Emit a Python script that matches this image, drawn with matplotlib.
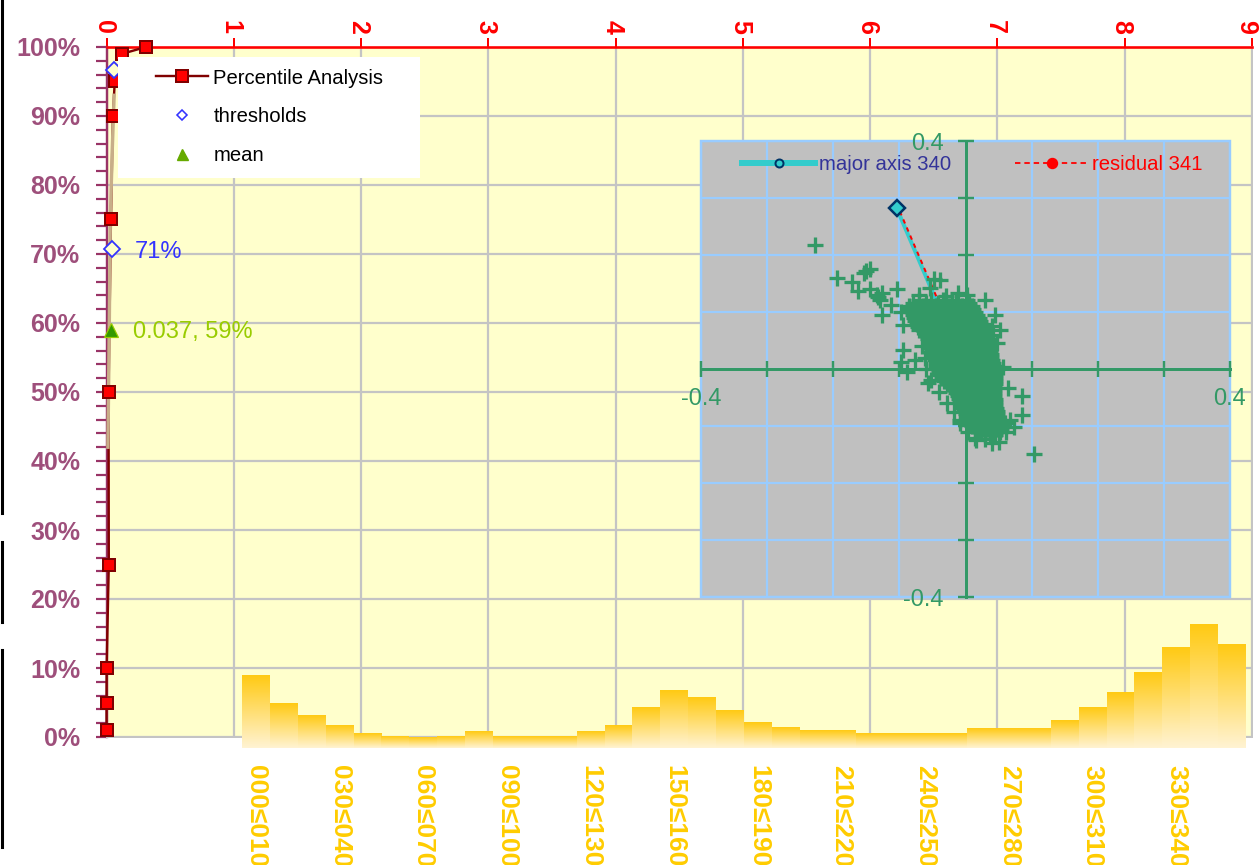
import numpy as np
import matplotlib
matplotlib.use("Agg")
import matplotlib.pyplot as plt
from matplotlib.colors import LinearSegmentedColormap
from matplotlib.lines import Line2D
from matplotlib.patches import Rectangle
from matplotlib.ticker import MultipleLocator
from matplotlib.transforms import ScaledTranslation

plt.rcParams['font.family'] = ['Liberation Sans', 'DejaVu Sans']

# ---- main chart data ----
pct_x = [0.0, 0.0, 0.001, 0.018, 0.016, 0.035, 0.05, 0.065, 0.12, 0.31]
pct_y = [1, 5, 10, 25, 50, 75, 90, 95, 99, 100]
tan_x = [0.011, 0.022, 0.03, 0.045, 0.06]
tan_y = [42, 60, 75, 85, 93]
thr_x = [0.04, 0.055]
thr_y = [70.7, 96.7]
mean_x = [0.037]
mean_y = [59]

# ---- direction histogram ----
bin_labels = ['000≤010', '030≤040', '060≤070', '090≤100', '120≤130', '150≤160',
              '180≤190', '210≤220', '240≤250', '270≤280', '300≤310', '330≤340']
bin_vals = [5.95, 3.68, 2.67, 1.83, 1.20, 0.96, 0.82, 0.93, 1.39, 0.96, 0.98, 0.98,
            1.39, 1.83, 3.28, 4.72, 4.12, 3.08, 2.05, 1.64, 1.42, 1.45, 1.20, 1.20,
            1.20, 1.17, 1.61, 1.61, 1.61, 2.27, 3.28, 4.53, 6.20, 8.24, 10.10, 8.46]

# ---- inset data ----
major_x = [0.0, -0.104]
major_y = [0.0, 0.282]
resid_x = [0.003, -0.101]
resid_y = [0.0, 0.281]
outlier_x = [-.227, -.195, -.171, -.163, -.150, -.145, -.153, -.144, -.134, -.126, -.129,
             -.132, -.103, -.112, -.126, -.098, -.094, -.094, -.097, -.088, -.077, -.056,
             -.047, -.039, -.053, -.070, .003, .030, .044, .052, .047, .057, .064, .086,
             .085, .074, .067, .050, .015, .104, -.008,
             -.066, -.062, -.060, -.052, -.040, -.028, -.018, -.008, .004, .016, .030,
             .040, .062, .060, .042, .040, -.030, -.012]
outlier_y = [.218, .160, .153, .137, .172, .175, .168, .140, .130, .133, .121,
             .126, .140, .112, .095, .100, .077, .033, .012, -.005, .016, -.025,
             .158, .156, .142, .130, .130, .121, .095, .068, .046, .004, -.033, -.047,
             -.081, -.102, -.089, -.128, -.121, -.149, -.089,
             .040, .020, .000, -.020, -.040, -.060, -.075, -.095, -.110, -.125, -.122,
             -.130, -.110, -.095, .060, .075, .128, .134]
cloud_levels = [.121, .116, .111, .105, .100, .095, .089, .084, .079, .074, .068, .063,
                .058, .053, .047, .042, .037, .032, .026, .021, .016, .011, .005, .000,
                -.005, -.011, -.016, -.021, -.026, -.032, -.037, -.042, -.047, -.053,
                -.058, -.063, -.068, -.074, -.079, -.084, -.089, -.095, -.100, -.105,
                -.111, -.116]
cloud_rows = [
    [-.070, -.052, -.034, -.015, .003],
    [-.080, -.060, -.041, -.020, .005],
    [-.085, -.064, -.044, -.025, -.006, .010],
    [-.085, -.066, -.046, -.027, -.008, .012],
    [-.082, -.063, -.043, -.022, -.003, .015],
    [-.080, -.060, -.040, -.021, -.001, .018],
    [-.078, -.058, -.039, -.019, .001, .020],
    [-.076, -.056, -.036, -.016, .004, .022],
    [-.074, -.054, -.034, -.013, .007, .026],
    [-.072, -.052, -.032, -.012, .009, .028],
    [-.070, -.050, -.030, -.010, .010, .030],
    [-.062, -.043, -.023, -.003, .014, .031],
    [-.058, -.039, -.020, -.001, .016, .032],
    [-.056, -.037, -.018, .000, .017, .034],
    [-.054, -.035, -.016, .002, .019, .034],
    [-.052, -.033, -.014, .004, .020, .035],
    [-.052, -.032, -.013, .005, .021, .036],
    [-.050, -.031, -.012, .006, .022, .037],
    [-.050, -.030, -.011, .008, .024, .038],
    [-.048, -.028, -.009, .009, .025, .039],
    [-.046, -.027, -.008, .011, .026, .040],
    [-.045, -.025, -.006, .013, .028, .042],
    [-.044, -.024, -.004, .015, .031, .046],
    [-.042, -.022, -.002, .017, .033, .048],
    [-.040, -.021, -.001, .018, .032, .046],
    [-.038, -.019, .001, .018, .032, .045],
    [-.036, -.017, .002, .019, .033, .045],
    [-.032, -.014, .004, .020, .033, .044],
    [-.028, -.010, .006, .021, .033, .044],
    [-.022, -.006, .008, .022, .034, .043],
    [-.018, -.003, .010, .023, .034, .043],
    [-.014, .000, .012, .024, .035, .043],
    [-.012, .002, .014, .025, .035, .043],
    [-.010, .004, .016, .026, .036, .044],
    [-.008, .005, .017, .027, .036, .044],
    [-.006, .007, .018, .028, .037, .045],
    [-.004, .009, .020, .030, .038, .046],
    [-.002, .011, .022, .032, .040, .048],
    [.000, .012, .023, .033, .041, .048],
    [.002, .014, .025, .035, .042, .049],
    [.004, .016, .027, .037, .044, .051],
    [.006, .018, .029, .039, .046, .052],
    [.010, .021, .031, .040, .047, .053],
    [.014, .024, .034, .042, .048, .054],
    [.020, .029, .037, .045, .052],
    [.030, .037, .045],
]
cloud_x = [v for row in cloud_rows for v in row]
cloud_y = [lv for lv, row in zip(cloud_levels, cloud_rows) for _ in row]

W, H = 1260, 865
PX = 72 / 100


def rect(x0, ytop, x1, ybot):
    return [x0 / W, 1 - ybot / H, (x1 - x0) / W, (ybot - ytop) / H]


fig = plt.figure(figsize=(W / 100, H / 100), dpi=100, facecolor='white')


def nudge(text, dx_px):
    text.set_transform(text.get_transform() + ScaledTranslation(dx_px / 100, 0, fig.dpi_scale_trans))


# left-edge black rule of the screenshot
for y0, y1 in [(0, 513), (542, 622), (650, 847)]:
    fig.add_artist(Line2D([1.5 / W, 1.5 / W], [1 - y0 / H, 1 - y1 / H],
                          color='black', lw=2.2))

MAUVE = '#993366'
ax = fig.add_axes(rect(106.5, 47, 1252, 737), facecolor='#FFFFCC', zorder=1)
ax.set_xlim(0, 9)
ax.set_ylim(0, 100)
ax.xaxis.tick_top()
ax.set_xticks(range(10))
ax.set_yticks(range(0, 101, 10))
ax.set_yticklabels([f'{v}%' for v in range(0, 101, 10)])
ax.yaxis.set_minor_locator(MultipleLocator(2))
ax.grid(True, color='#C4C4C4', lw=2 * PX * 1.1)
ax.set_axisbelow(True)
for s, c, w in [('top', 'red', 2.6), ('left', MAUVE, 2.4), ('bottom', '#C4C4C4', 2), ('right', '#C4C4C4', 2)]:
    ax.spines[s].set_color(c)
    ax.spines[s].set_linewidth(w * PX)
ax.tick_params(axis='x', colors='red', length=8 * PX * 1.1, width=2 * PX, pad=3, labelsize=18)
ax.tick_params(axis='y', which='major', colors=MAUVE, length=9 * PX * 1.2, width=2 * PX * 1.1, pad=11, labelsize=18)
ax.tick_params(axis='y', which='minor', colors=MAUVE, length=9 * PX * 1.2, width=2 * PX * 1.1)
xlabels = ax.get_xticklabels()
for t in xlabels:
    t.set_rotation(-90)
    t.set_fontweight('bold')
    t.set_ha('center')
    nudge(t, -3)
nudge(xlabels[-1], -3)
for t in ax.get_yticklabels():
    t.set_fontweight('bold')
    t.set_color('#9E4F7B')

ax.plot(pct_x, pct_y, color='#800000', lw=2.4 * PX, clip_on=False, zorder=2.8)
ax.plot(tan_x, tan_y, color='#C8AE88', lw=3.4 * PX, clip_on=False, zorder=2.9)
ax.plot(pct_x, pct_y, ls='none', marker='s', ms=11.5 * PX,
        mfc='red', mec='#800000', mew=2 * PX, clip_on=False, zorder=3)
ax.plot(thr_x, thr_y, ls='none', marker='D', ms=11 * PX, mfc='#FFFFCC', mec='#3333FF',
        mew=1.8 * PX, clip_on=False, zorder=3.2)
ax.plot(mean_x, mean_y, ls='none', marker='^', ms=14 * PX, mfc='#339900', mec='#99CC00',
        mew=1.2 * PX, clip_on=False, zorder=3.2)
ax.annotate('71%', (thr_x[0], thr_y[0]), xytext=(23 * PX, -3 * PX), textcoords='offset points',
            color='#3333FF', fontsize=17, va='center', zorder=3.3)
ax.annotate('0.037, 59%', (mean_x[0], mean_y[0]), xytext=(22 * PX, -2 * PX), textcoords='offset points',
            color='#99CC00', fontsize=17, va='center', zorder=3.3)

# main legend on a white panel
ax.add_patch(Rectangle((118 / W, 1 - 178 / H), 302 / W, 121 / H, transform=fig.transFigure,
                       facecolor='white', edgecolor='none', zorder=4))
main_handles = [
    Line2D([], [], color='#800000', lw=2.4 * PX, marker='s', ms=11.5 * PX, mfc='red', mec='#800000', mew=2 * PX),
    Line2D([], [], ls='none', marker='D', ms=7 * PX, mfc='white', mec='#3333FF', mew=1.6 * PX),
    Line2D([], [], ls='none', marker='^', ms=11 * PX, mfc='#66AA00', mec='#66AA00'),
]
leg = ax.legend(main_handles, ['Percentile Analysis', 'thresholds', 'mean'],
                loc='upper left', bbox_to_anchor=(156 / W, 1 - 68.5 / H), bbox_transform=fig.transFigure,
                frameon=False, fontsize=14.6, borderpad=0, borderaxespad=0, handlelength=2.55,
                handletextpad=0.28, labelspacing=0.98, labelcolor='black')
leg.set_zorder(5)

# histogram with per-bar fade
bar_ax = fig.add_axes(rect(242, 608, 1246, 748), zorder=2)
bar_ax.patch.set_alpha(0)
cmap = LinearSegmentedColormap.from_list('fade', ['#FFF3D2', '#FFCA14'])
grad = np.linspace(1, 0, 64).reshape(-1, 1)
for i, v in enumerate(bin_vals):
    bar_ax.imshow(grad, extent=[i, i + 1, 0, v], aspect='auto', cmap=cmap, vmin=0, vmax=1,
                  interpolation='bilinear', zorder=2)
bar_ax.set_xlim(0, 36)
bar_ax.set_ylim(0, 140 / 12.21)
bar_ax.set_yticks([])
bar_ax.set_xticks([i + 0.5 for i in range(0, 36, 3)])
bar_ax.set_xticklabels(bin_labels, rotation=-90, ha='center', va='top', color='#FFCC00',
                       fontsize=19, fontweight='bold')
for t in bar_ax.get_xticklabels():
    nudge(t, -3)
bar_ax.tick_params(axis='x', length=0, pad=12)
for s in bar_ax.spines.values():
    s.set_visible(False)

# inset scatter
GREEN = '#339966'
ins = fig.add_axes(rect(701, 141, 1230, 597), facecolor='#C0C0C0', zorder=3)
ins.set_xlim(-0.4, 0.4)
ins.set_ylim(-0.4, 0.4)
ticks = np.arange(-4, 5) / 10
ins.set_xticks(ticks)
ins.set_yticks(ticks)
end_labels = ['-0.4', '', '', '', '', '', '', '', '0.4']
ins.set_xticklabels(end_labels)
ins.set_yticklabels(end_labels)
ins.grid(True, color='#99CCFF', lw=2 * PX * 1.1)
ins.set_axisbelow(True)
ins.patch.set_edgecolor('#99CCFF')
ins.patch.set_linewidth(2.4 * PX)
ins.spines['top'].set_visible(False)
ins.spines['right'].set_visible(False)
for s in ('left', 'bottom'):
    ins.spines[s].set_position('zero')
    ins.spines[s].set_color(GREEN)
    ins.spines[s].set_linewidth(3 * PX)
ins.tick_params(colors=GREEN, direction='inout', length=16 * PX, width=2.4 * PX, labelsize=17)
ins.tick_params(axis='x', pad=8)
ins.tick_params(axis='y', pad=10)

ins.plot(major_x, major_y, color='#33CCCC', lw=4 * PX, zorder=3)
ins.plot(major_x[1:], major_y[1:], ls='none', marker='D', ms=12 * PX, mfc='#33CCCC', mec='#003366',
         mew=2.5 * PX, zorder=3.5)
ins.plot(resid_x, resid_y, color='red', lw=2 * PX, ls=(0, (2.2, 2.2)), zorder=3.2)
ins.plot(outlier_x + cloud_x, outlier_y + cloud_y, ls='none', marker='+', ms=16 * PX,
         mew=3.3 * PX, color=GREEN, zorder=4)

ins_handles = [
    Line2D([], [], color='#33CCCC', lw=6 * PX, marker='o', ms=8 * PX, mfc='#33CCCC', mec='#003366', mew=2 * PX),
    Line2D([], [], color='red', lw=1.8 * PX, ls=(0, (3, 2.2)), marker='o', ms=10 * PX, mfc='red', mec='red'),
]
ins_leg = ins.legend(ins_handles, ['major axis 340', 'residual 341'], loc='upper left',
                     bbox_to_anchor=(742 / W, 1 - 155 / H), bbox_transform=fig.transFigure,
                     ncol=2, frameon=False, fontsize=14.6, borderpad=0, borderaxespad=0,
                     handlelength=3.6, handletextpad=0.2, columnspacing=3.15)
ins_leg.get_texts()[0].set_color('#333399')
ins_leg.get_texts()[1].set_color('red')
ins_leg.set_zorder(6)

fig.savefig('out.png', dpi=100, facecolor='white')
